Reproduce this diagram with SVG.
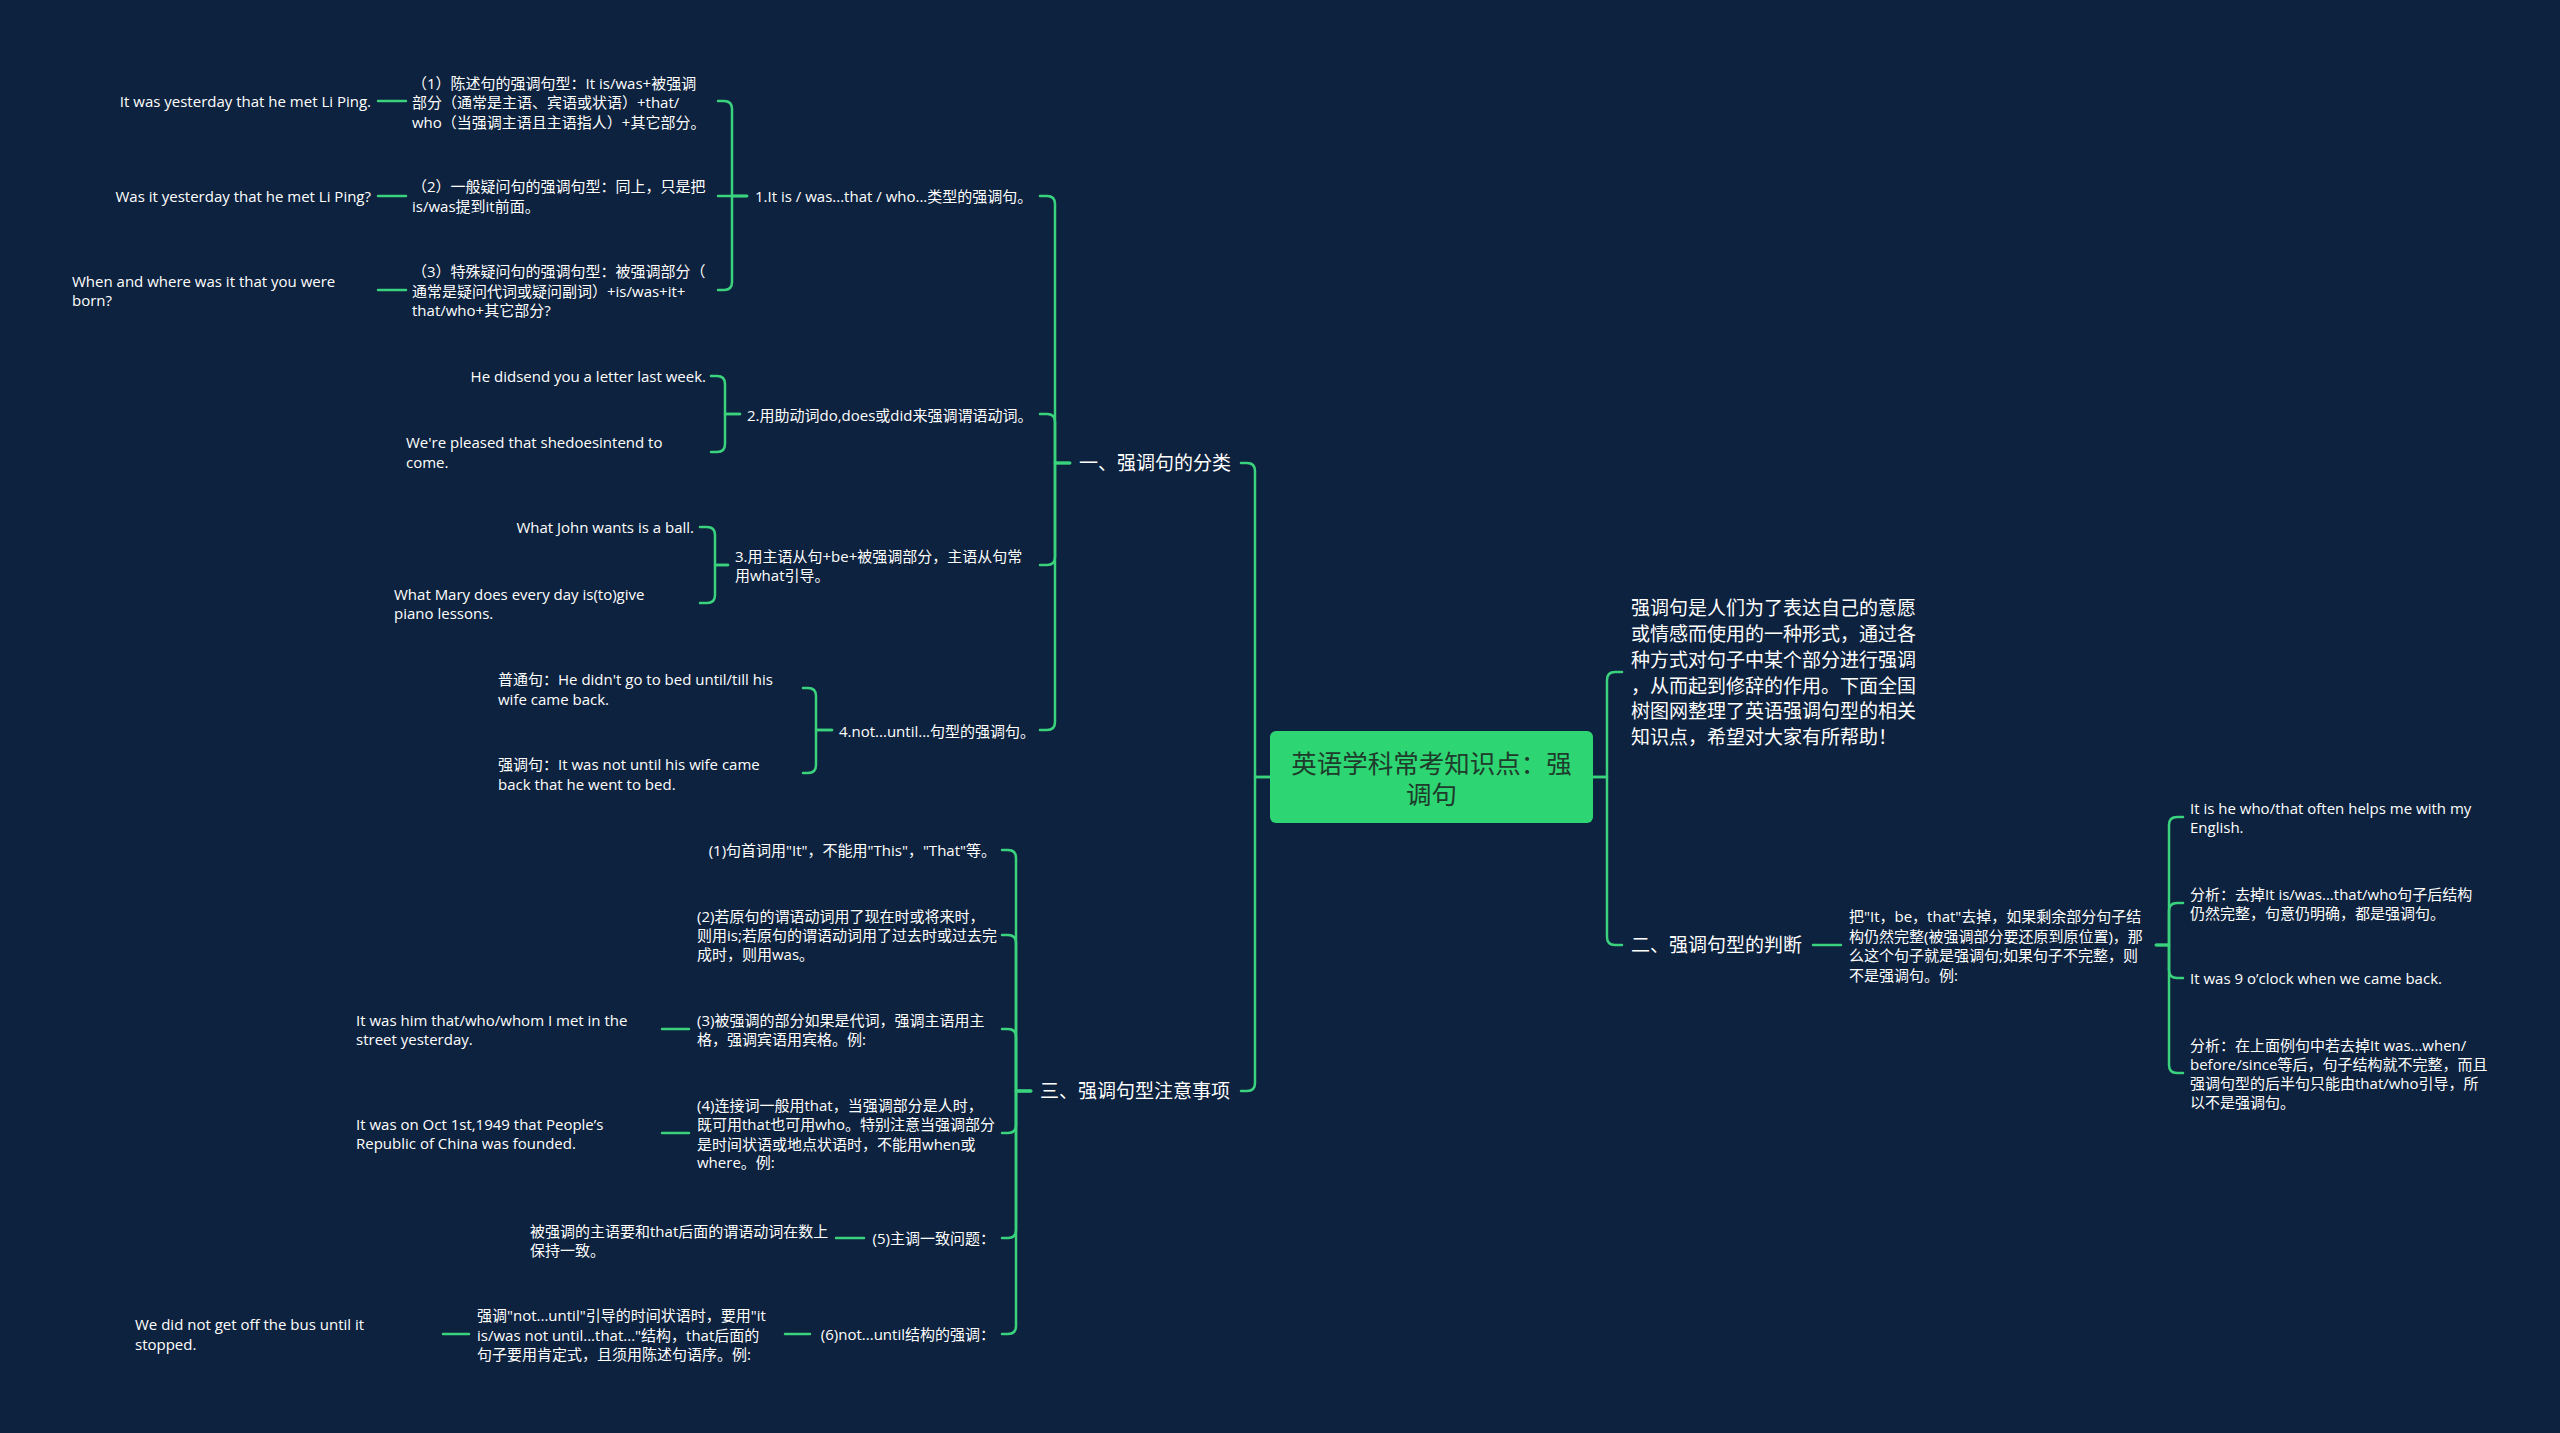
<svg xmlns="http://www.w3.org/2000/svg" width="2560" height="1433" viewBox="0 0 2560 1433">
<style>
 .e{fill:none;stroke:#3bd27e;stroke-width:2.5;stroke-linecap:round;stroke-linejoin:round}
 text{font-family:"Open Sans","Noto Sans CJK SC",sans-serif;fill:#ffffff}
 .s{font-size:15px}
 .m{font-size:19px}
 .r{font-size:25.5px;fill:#1e3b2b;text-anchor:middle}
 .end{text-anchor:end}
 .rootbox{fill:#2ed573}
</style>
<rect x="0" y="0" width="2560" height="1433" fill="#0d223e"/>

<g id="connectors" class="e">
 <path d="M1270,777 H1255 V471 Q1255,463 1247,463 H1241"/>
 <path d="M1270,777 H1255 V1083 Q1255,1091 1247,1091 H1241"/>
 <path d="M1593,777 H1607 V680 Q1607,672 1615,672 H1622"/>
 <path d="M1593,777 H1607 V937 Q1607,945 1615,945 H1622"/>

 <path d="M1070,463 H1055 V204 Q1055,196 1047,196 H1040"/>
 <path d="M1070,463 H1055 V422 Q1055,414 1047,414 H1040"/>
 <path d="M1070,463 H1055 V557 Q1055,565 1047,565 H1040"/>
 <path d="M1070,463 H1055 V722 Q1055,730 1047,730 H1040"/>

 <path d="M747,196 H732 V109 Q732,101 724,101 H718"/>
 <path d="M747,196 H718"/>
 <path d="M747,196 H732 V282 Q732,290 724,290 H718"/>
 <path d="M406,101 H378"/>
 <path d="M406,196 H378"/>
 <path d="M406,290 H378"/>

 <path d="M740,414 H725 V384 Q725,376 717,376 H711"/>
 <path d="M740,414 H725 V444 Q725,452 717,452 H711"/>

 <path d="M728,565 H715 V535 Q715,527 707,527 H700"/>
 <path d="M728,565 H715 V595 Q715,603 707,603 H700"/>

 <path d="M832,730 H816 V696 Q816,688 808,688 H803"/>
 <path d="M832,730 H816 V765 Q816,773 808,773 H803"/>

 <path d="M1031,1091 H1016 V858 Q1016,850 1008,850 H1002"/>
 <path d="M1031,1091 H1016 V943 Q1016,935 1008,935 H1002"/>
 <path d="M1031,1091 H1016 V1037 Q1016,1029 1008,1029 H1002"/>
 <path d="M1031,1091 H1016 V1125 Q1016,1133 1008,1133 H1002"/>
 <path d="M1031,1091 H1016 V1230 Q1016,1238 1008,1238 H1002"/>
 <path d="M1031,1091 H1016 V1326 Q1016,1334 1008,1334 H1002"/>
 <path d="M689,1029 H662"/>
 <path d="M689,1133 H662"/>
 <path d="M864,1238 H836"/>
 <path d="M810,1334 H785"/>
 <path d="M469,1334 H443"/>

 <path d="M1813,945 H1841"/>
 <path d="M2156,945 H2169 V825 Q2169,817 2177,817 H2183"/>
 <path d="M2156,945 H2169 V911 Q2169,903 2177,903 H2183"/>
 <path d="M2156,945 H2169 V970 Q2169,978 2177,978 H2183"/>
 <path d="M2156,945 H2169 V1065 Q2169,1073 2177,1073 H2183"/>
</g>

<g id="root">
 <rect class="rootbox" x="1270" y="731" width="323" height="92" rx="6"/>
 <text class="r"><tspan x="1431.5" y="772.5">英语学科常考知识点：强</tspan><tspan x="1431.5" y="803.5">调句</tspan></text>
</g>

<g id="n-b1"><text class="m" x="1079" y="470">一、强调句的分类</text></g>
<g id="n-b3"><text class="m" x="1040" y="1098">三、强调句型注意事项</text></g>
<g id="n-b2"><text class="m" x="1631" y="952">二、强调句型的判断</text></g>
<g id="n-desc"><text class="m">
 <tspan x="1631" y="615">强调句是人们为了表达自己的意愿</tspan>
 <tspan x="1631" y="641">或情感而使用的一种形式，通过各</tspan>
 <tspan x="1631" y="667">种方式对句子中某个部分进行强调</tspan>
 <tspan x="1631" y="693">，从而起到修辞的作用。下面全国</tspan>
 <tspan x="1631" y="718">树图网整理了英语强调句型的相关</tspan>
 <tspan x="1631" y="744">知识点，希望对大家有所帮助！</tspan>
</text></g>

<g id="n-1-1"><text class="s" x="755" y="202">1.It is / was...that / who...类型的强调句。</text></g>
<g id="n-1-1-1"><text class="s">
 <tspan x="412" y="88.5">（1）陈述句的强调句型：It is/was+被强调</tspan>
 <tspan x="412" y="108">部分（通常是主语、宾语或状语）+that/</tspan>
 <tspan x="412" y="127.5">who（当强调主语且主语指人）+其它部分。</tspan>
</text></g>
<g id="n-1-1-1a"><text class="s end" x="371" y="106.5">It was yesterday that he met Li Ping.</text></g>
<g id="n-1-1-2"><text class="s">
 <tspan x="412" y="192">（2）一般疑问句的强调句型：同上，只是把</tspan>
 <tspan x="412" y="212">is/was提到it前面。</tspan>
</text></g>
<g id="n-1-1-2a"><text class="s end" x="371" y="201.5">Was it yesterday that he met Li Ping?</text></g>
<g id="n-1-1-3"><text class="s">
 <tspan x="412" y="277">（3）特殊疑问句的强调句型：被强调部分（</tspan>
 <tspan x="412" y="296.5">通常是疑问代词或疑问副词）+is/was+it+</tspan>
 <tspan x="412" y="315.5">that/who+其它部分?</tspan>
</text></g>
<g id="n-1-1-3a"><text class="s">
 <tspan x="72" y="286.5">When and where was it that you were</tspan>
 <tspan x="72" y="305.5">born?</tspan>
</text></g>

<g id="n-1-2"><text class="s" x="747" y="420.5">2.用助动词do,does或did来强调谓语动词。</text></g>
<g id="n-1-2-1"><text class="s end" x="706" y="381.5">He didsend you a letter last week.</text></g>
<g id="n-1-2-2"><text class="s">
 <tspan x="406" y="447.5">We're pleased that shedoesintend to</tspan>
 <tspan x="406" y="467.5">come.</tspan>
</text></g>

<g id="n-1-3"><text class="s">
 <tspan x="735" y="561.5">3.用主语从句+be+被强调部分，主语从句常</tspan>
 <tspan x="735" y="580.5">用what引导。</tspan>
</text></g>
<g id="n-1-3-1"><text class="s end" x="694" y="532.5">What John wants is a ball.</text></g>
<g id="n-1-3-2"><text class="s">
 <tspan x="394" y="599.5">What Mary does every day is(to)give</tspan>
 <tspan x="394" y="618.5">piano lessons.</tspan>
</text></g>

<g id="n-1-4"><text class="s" x="839" y="736.5">4.not...until...句型的强调句。</text></g>
<g id="n-1-4-1"><text class="s">
 <tspan x="498" y="684.5">普通句：He didn't go to bed until/till his</tspan>
 <tspan x="498" y="704.5">wife came back.</tspan>
</text></g>
<g id="n-1-4-2"><text class="s">
 <tspan x="498" y="769.5">强调句：It was not until his wife came</tspan>
 <tspan x="498" y="789.5">back that he went to bed.</tspan>
</text></g>

<g id="n-3-1"><text class="s end" x="996" y="855.5">(1)句首词用"It"，不能用"This"，"That"等。</text></g>
<g id="n-3-2"><text class="s">
 <tspan x="697" y="922">(2)若原句的谓语动词用了现在时或将来时，</tspan>
 <tspan x="697" y="941">则用is;若原句的谓语动词用了过去时或过去完</tspan>
 <tspan x="697" y="960">成时，则用was。</tspan>
</text></g>
<g id="n-3-3"><text class="s">
 <tspan x="697" y="1025.5">(3)被强调的部分如果是代词，强调主语用主</tspan>
 <tspan x="697" y="1045">格，强调宾语用宾格。例:</tspan>
</text></g>
<g id="n-3-3a"><text class="s">
 <tspan x="356" y="1025.5">It was him that/who/whom I met in the</tspan>
 <tspan x="356" y="1045">street yesterday.</tspan>
</text></g>
<g id="n-3-4"><text class="s">
 <tspan x="697" y="1111">(4)连接词一般用that，当强调部分是人时，</tspan>
 <tspan x="697" y="1130">既可用that也可用who。特别注意当强调部分</tspan>
 <tspan x="697" y="1149.5">是时间状语或地点状语时，不能用when或</tspan>
 <tspan x="697" y="1168">where。例:</tspan>
</text></g>
<g id="n-3-4a"><text class="s">
 <tspan x="356" y="1130">It was on Oct 1st,1949 that People’s</tspan>
 <tspan x="356" y="1149">Republic of China was founded.</tspan>
</text></g>
<g id="n-3-5"><text class="s end" x="995" y="1244">(5)主调一致问题：</text></g>
<g id="n-3-5a"><text class="s">
 <tspan x="530" y="1237">被强调的主语要和that后面的谓语动词在数上</tspan>
 <tspan x="530" y="1256">保持一致。</tspan>
</text></g>
<g id="n-3-6"><text class="s end" x="995" y="1340">(6)not...until结构的强调：</text></g>
<g id="n-3-6a"><text class="s">
 <tspan x="477" y="1321">强调"not...until"引导的时间状语时，要用"it</tspan>
 <tspan x="477" y="1340.5">is/was not until...that..."结构，that后面的</tspan>
 <tspan x="477" y="1359.5">句子要用肯定式，且须用陈述句语序。例:</tspan>
</text></g>
<g id="n-3-6b"><text class="s">
 <tspan x="135" y="1330">We did not get off the bus until it</tspan>
 <tspan x="135" y="1349.5">stopped.</tspan>
</text></g>

<g id="n-2-1"><text class="s">
 <tspan x="1849" y="922">把"It，be，that"去掉，如果剩余部分句子结</tspan>
 <tspan x="1849" y="941.5">构仍然完整(被强调部分要还原到原位置)，那</tspan>
 <tspan x="1849" y="961">么这个句子就是强调句;如果句子不完整，则</tspan>
 <tspan x="1849" y="980.5">不是强调句。例:</tspan>
</text></g>
<g id="n-2-1-1"><text class="s">
 <tspan x="2190" y="814">It is he who/that often helps me with my</tspan>
 <tspan x="2190" y="833">English.</tspan>
</text></g>
<g id="n-2-1-2"><text class="s">
 <tspan x="2190" y="899.5">分析：去掉It is/was...that/who句子后结构</tspan>
 <tspan x="2190" y="919">仍然完整，句意仍明确，都是强调句。</tspan>
</text></g>
<g id="n-2-1-3"><text class="s" x="2190" y="984">It was 9 o’clock when we came back.</text></g>
<g id="n-2-1-4"><text class="s">
 <tspan x="2190" y="1051">分析：在上面例句中若去掉It was...when/</tspan>
 <tspan x="2190" y="1070">before/since等后，句子结构就不完整，而且</tspan>
 <tspan x="2190" y="1089">强调句型的后半句只能由that/who引导，所</tspan>
 <tspan x="2190" y="1108">以不是强调句。</tspan>
</text></g>
</svg>
